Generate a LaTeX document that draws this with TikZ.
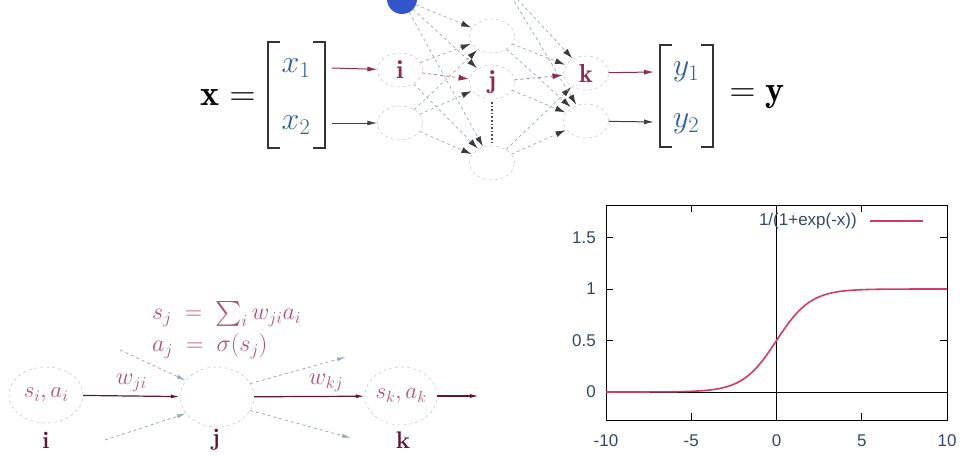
\documentclass[tikz,border=0pt]{standalone}
\usepackage{fix-cm}
\usepackage{amsmath}
\usepackage{fontspec}
\newfontfamily\plotfont{Liberation Sans}
\usetikzlibrary{shapes.geometric,arrows.meta}
\definecolor{vecblue}{HTML}{2F5F9F}
\definecolor{maroon}{HTML}{8C2A55}
\definecolor{darkmaroon}{HTML}{5E1836}
\definecolor{pinktext}{HTML}{B0507A}
\definecolor{edgegray}{HTML}{9AAAB8}
\definecolor{tipgray}{HTML}{3A3A3A}
\definecolor{curvecol}{HTML}{D23C64}
\definecolor{ticklab}{HTML}{33476A}
\definecolor{biasblue}{HTML}{3355CC}
\begin{document}
\begin{tikzpicture}[x=1pt,y=-1pt,
  neuron/.style={ellipse,draw=gray!55,dashed,minimum width=45pt,minimum height=34pt,inner sep=0pt,
    text=maroon,font=\fontsize{26}{30}\selectfont},
  bneuron/.style={ellipse,draw=gray!55,dashed,inner sep=0pt,text=pinktext,font=\fontsize{23}{27}\selectfont},
  bias/.style={circle,fill=biasblue,minimum size=30pt,inner sep=0pt},
  vec/.style={text=vecblue,font=\fontsize{32}{38}\selectfont,inner sep=0pt},
  bigmath/.style={font=\fontsize{36}{42}\selectfont,inner sep=0pt},
  bracket/.style={draw=black!80,line width=1.3pt},
  edge/.style={draw=edgegray,dashed,line width=0.7pt,-{Latex[length=10pt,width=6pt,color=tipgray]},shorten >=1pt},
  redge/.style={draw=maroon!70,dashed,line width=0.7pt,-{Latex[length=10pt,width=6pt,color=maroon]},shorten >=1pt},
  inarrow/.style={line width=1pt,-{Latex[length=10pt,width=5pt]}},
  barrow/.style={draw=darkmaroon,line width=1.2pt,-{Latex[length=9pt,width=4pt]}},
  garrow/.style={draw=edgegray,dashed,line width=0.8pt,-{Latex[length=9pt,width=4pt]}},
  blabel/.style={text=darkmaroon,font=\fontsize{24}{28}\selectfont\bfseries,inner sep=0pt},
  ptext/.style={text=pinktext,font=\fontsize{24}{28}\selectfont,inner sep=0pt},
  ticklabel/.style={text=ticklab,font=\fontsize{17}{20}\plotfont,inner sep=0pt}
]
\useasboundingbox (0,0) rectangle (963,456);
\clip (0,0) rectangle (963,456);

% ---------- top network ----------
\node[bigmath] (xeq) at (228,98) {$\mathbf{x} =$};
\draw[bracket] (280,42) -- (268,42) -- (268,148) -- (280,148);
\draw[bracket] (313,42) -- (325,42) -- (325,148) -- (313,148);
\node[vec] (x1) at (296,68) {$x_1$};
\node[vec] (x2) at (296,125) {$x_2$};

\node[bias] (B) at (402,-1) {};
\node[neuron] (I) at (400,70) {$\mathbf{i}$};
\node[neuron] (L2) at (400,123) {};
\node[neuron] (H1) at (492,36) {};
\node[neuron] (J) at (492,82) {$\mathbf{j}$};
\node[neuron] (H3) at (492,163) {};
\node[neuron] (K) at (586,73) {$\mathbf{k}$};
\node[neuron] (O2) at (586,121) {};
\coordinate (B2) at (505,-14);

\draw[inarrow,draw=maroon] (332,68) -- (I);
\draw[inarrow,draw=black!75] (332,123) -- (L2);

\foreach \s/\t in {B/H1,B/J,B/H3,I/H1,I/H3,L2/H1,L2/J,L2/H3,
                   H1/K,H1/O2,J/O2,H3/K,H3/O2,B2/K,B2/O2}
  \draw[edge] (\s) -- (\t);
\draw[redge] (I) -- (J);
\draw[redge] (J) -- (K);
\draw[dotted,line width=1.6pt,black!70] (492,102) -- (492,142);

\draw[bracket] (672,45) -- (660,45) -- (660,147) -- (672,147);
\draw[bracket] (701,45) -- (713,45) -- (713,147) -- (701,147);
\node[vec] (y1) at (686,72) {$y_1$};
\node[vec] (y2) at (686,124) {$y_2$};
\draw[inarrow,draw=maroon] (K) -- (654,72);
\draw[inarrow,draw=black!75] (O2) -- (654,122);
\node[bigmath] (yeq) at (757,97) {$= \mathbf{y}$};

% ---------- bottom network ----------
\node[bneuron,minimum width=74pt,minimum height=56pt] (bi) at (46,395) {$s_i, a_i$};
\node[bneuron,minimum width=74pt,minimum height=60pt] (bj) at (217,397) {};
\node[bneuron,minimum width=68pt,minimum height=58pt] (bk) at (401,396) {$s_k, a_k$};
\coordinate (bout) at (479,396);
\draw[barrow] (bi) -- node[ptext,above=4pt] (wji) {$w_{ji}$} (bj);
\draw[barrow] (bj) -- node[ptext,above=4pt,pos=0.65] (wkj) {$w_{kj}$} (bk);
\draw[barrow] (bk) -- (bout);
\coordinate (g1) at (120,350);
\coordinate (g2) at (105,440);
\coordinate (g3) at (346,357);
\coordinate (g4) at (351,438);
\draw[garrow] (g1) -- (bj.152);
\draw[garrow] (g2) -- (bj.208);
\draw[garrow] (bj.22) -- (g3);
\draw[garrow] (bj.-22) -- (g4);
\node[ptext,anchor=west] (sj) at (152,314) {$s_j \;=\; \sum_i w_{ji} a_i$};
\node[ptext,anchor=west] (aj) at (152,346) {$a_j \;=\; \sigma(s_j)$};
\node[blabel] (li) at (46,440) {i};
\node[blabel] (lj) at (216,440) {j};
\node[blabel] (lk) at (403,440) {k};

% ---------- sigmoid plot ----------
\draw[line width=0.9pt] (606,205) rectangle (947,420);
\draw[line width=0.8pt] (776.5,205) -- (776.5,420);
\draw[line width=0.8pt] (606,392) -- (947,392);
\foreach \v in {-10,-5,0,5,10} {
  \pgfmathsetmacro\px{776.5+17.05*\v}
  \draw[line width=0.8pt] (\px,420) -- (\px,413);
  \draw[line width=0.8pt] (\px,205) -- (\px,212);
  \node[ticklabel] at (\px,441) {\v};
}
\foreach \v/\lab in {0/0,0.5/0.5,1/1,1.5/1.5} {
  \pgfmathsetmacro\py{392-103*\v}
  \draw[line width=0.8pt] (606,\py) -- (613,\py);
  \draw[line width=0.8pt] (947,\py) -- (940,\py);
  \node[ticklabel,anchor=east] at (596,\py) {\lab};
}
\draw[curvecol,line width=1.6pt] (606,392) -- plot[domain=-9:10,samples=120,smooth]
  ({776.5+17.05*\x},{392-103/(1+exp(-\x))});
\node[ticklabel,anchor=east,font=\fontsize{17}{20}\plotfont] (leg) at (857,221) {1/(1+exp(-x))};
\draw[curvecol,line width=1.6pt] (870,221) -- (923,221);
\end{tikzpicture}
\end{document}
